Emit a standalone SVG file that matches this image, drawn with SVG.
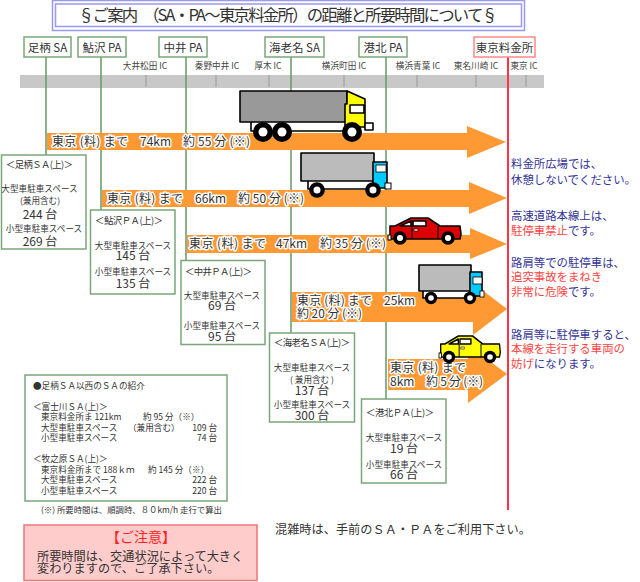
<svg xmlns="http://www.w3.org/2000/svg" xmlns:xlink="http://www.w3.org/1999/xlink" width="640" height="582" viewBox="0 0 640 582">
<style>
text{font-family:"Noto Sans CJK JP","Noto Sans",sans-serif;fill:#333}
.c{text-anchor:middle}
.e{text-anchor:end}
.node{font-size:11.5px}
.nb{fill:#fff;stroke:#7aa67a;stroke-width:1.5}
.ic{font-size:8.6px;text-anchor:middle;fill:#444}
.tick{stroke:#999;stroke-width:1}
.gl{stroke:#669966;stroke-width:1.5;fill:none}
.arrow{fill:#ff9933}
.al{font-size:12px;fill:#333;stroke:#fff;stroke-width:3px;paint-order:stroke;stroke-linejoin:round}
.s{font-size:8.6px}
.t{font-size:9.4px}
.n{font-size:12px}
.m{font-size:8.6px}
.note{font-size:11.4px;fill:#333399}
.r{fill:#ff4444}
.k{stroke:#000;stroke-width:1.6;stroke-linejoin:round}
</style>
<defs>
<g id="car">
<path class="k" fill="currentColor" d="M2 8 L7 8 L23 0 L40 0 L52 8 L72 8 L73 16 L72 21 L2 21 Z"/>
<path class="k" d="M25 3 L38 3 L38 8 L25 8 Z" fill="#fff"/>
<path class="k" d="M23 3 L23 8 L12 8 Z" fill="#fff" stroke-width="1"/>
<path d="M24 8 V21 M50 8 V21" stroke="#000" stroke-width="1.2"/>
<rect x="0" y="17" width="3" height="5" fill="#fff" stroke="#000"/>
<rect x="26" y="11" width="4" height="2" fill="#fff" stroke="#000" stroke-width=".6"/>
</g>
<g id="w"><circle r="10" fill="#000"/><circle r="4.5" fill="#fff"/></g>
</defs>

<g id="title">
<rect x="52.5" y="0.5" width="472" height="30" fill="#fff" stroke="#9999ee" stroke-width="1.5"/>
<rect x="55.5" y="4" width="466" height="22.5" fill="#fff" stroke="#9999ee" stroke-width="1.5"/>
<text x="78" y="21" font-size="16.4" textLength="420">§ご案内　（SA・PA～東京料金所）の距離と所要時間について§</text>
</g>

<g id="road">
<rect x="20" y="75" width="524" height="13" fill="#c8c8c8"/>
<path class="tick" d="M146 75V87M216 75V87M269 75V87M344 75V87M417 75V87M476 75V87M526 75V87"/>
<text class="ic" x="145" y="69">大井松田 IC</text>
<text class="ic" x="217" y="69">秦野中井 IC</text>
<text class="ic" x="268" y="69">厚木 IC</text>
<text class="ic" x="344" y="69">横浜町田 IC</text>
<text class="ic" x="418" y="69">横浜青葉 IC</text>
<text class="ic" x="476" y="69">東名川崎 IC</text>
<text class="ic" x="524" y="69">東京 IC</text>
</g>

<g id="connectors">
<path class="gl" d="M46 57V155M101 57V210M186 57V261M291 57V333M386 57V399"/>
<path d="M508 57V510" stroke="#ff3344" stroke-width="2" fill="none"/>
</g>

<g id="arrow-1"><path class="arrow" d="M47 133H467V126L506 142L467 158V150H47Z"/>
<text class="al" x="52" y="146" textLength="76">東京 (料) まで</text><text class="al" x="140" y="146">74km</text><text class="al" x="183" y="146" textLength="67">約 55 分 (※)</text></g>
<g id="arrow-2"><path class="arrow" d="M102 190H469V182L507 198L469 214V207H102Z"/>
<text class="al" x="107" y="203" textLength="76">東京 (料) まで</text><text class="al" x="195" y="203">66km</text><text class="al" x="238" y="203" textLength="66">約 50 分 (※)</text></g>
<g id="arrow-3"><path class="arrow" d="M187 235H470V228L507 244L470 259V253H187Z"/>
<text class="al" x="189" y="248" textLength="77">東京 (料) まで</text><text class="al" x="276" y="248">47km</text><text class="al" x="320" y="248" textLength="66">約 35 分 (※)</text></g>
<g id="arrow-4"><path class="arrow" d="M292 292H473V283L507 309L473 335V322H292Z"/>
<text class="al" x="297" y="305" textLength="75">東京 (料) まで</text><text class="al" x="384" y="305">25km</text><text class="al" x="297" y="318" textLength="65">約 20 分 (※)</text></g>
<g id="arrow-5"><path class="arrow" d="M388 359H468V345L507 374L468 403V390H388Z"/>
<text class="al" x="390" y="372" textLength="76">東京 (料) まで</text><text class="al" x="390" y="386">8km</text><text class="al" x="426" y="386" textLength="57">約 5 分 (※)</text></g>

<g id="truck-1">
<rect class="k" x="251" y="120" width="95" height="11" fill="#fff"/>
<rect class="k" x="240" y="91" width="107" height="31" fill="#999"/>
<path class="k" d="M347 91L365 99V127L345 127V104H347Z" fill="#ffff00"/>
<rect class="k" x="350" y="105" width="14" height="8" fill="#fff" stroke-width="1"/>
<rect class="k" x="365" y="123" width="8" height="7" fill="#fff" stroke-width="1"/>
<use href="#w" transform="translate(263 132)"/><use href="#w" transform="translate(282 132)"/><use href="#w" transform="translate(352 132)"/>
</g>
<g id="truck-2">
<rect class="k" x="308" y="180" width="66" height="9" fill="#fff"/>
<rect class="k" x="301" y="153" width="73" height="28" fill="#bbb"/>
<rect class="k" x="373" y="162" width="14" height="26" fill="#00ccff"/>
<rect x="376" y="165" width="10" height="7" fill="#fff" stroke="#000" stroke-width=".8"/>
<rect x="385" y="183" width="6" height="6" fill="#fff" stroke="#000"/>
<use href="#w" transform="translate(317 190) scale(.78)"/><use href="#w" transform="translate(373 190) scale(.78)"/>
</g>
<g id="truck-3">
<rect class="k" x="423" y="290" width="49" height="8" fill="#fff"/>
<rect class="k" x="419" y="265" width="52" height="26" fill="#bbb"/>
<rect class="k" x="470" y="272" width="12" height="24" fill="#00ccff"/>
<rect x="473" y="277" width="9" height="7" fill="#fff" stroke="#000" stroke-width=".8"/>
<rect x="480" y="291" width="4" height="6" fill="#fff" stroke="#000" stroke-width=".8"/>
<use href="#w" transform="translate(431 298) scale(.62)"/><use href="#w" transform="translate(470 298) scale(.62)"/>
</g>
<g id="car-red" color="#dd0000">
<use href="#car" transform="translate(388 218)"/>
<use href="#w" transform="translate(400 238) scale(.68)"/><use href="#w" transform="translate(448 238) scale(.68)"/>
</g>
<g id="car-yellow" color="#ffff00">
<use href="#car" transform="translate(439 336) scale(.84 1)"/>
<use href="#w" transform="translate(449 357) scale(.62)"/><use href="#w" transform="translate(490 357) scale(.62)"/>
</g>

<g id="node-ashigara"><rect class="nb" x="24" y="37" width="47" height="20"/><text class="node c" x="47.5" y="52">足柄 SA</text></g>
<g id="node-ayuzawa"><rect class="nb" x="78" y="37" width="48" height="20"/><text class="node c" x="102" y="52">鮎沢 PA</text></g>
<g id="node-nakai"><rect class="nb" x="159" y="37" width="48" height="20"/><text class="node c" x="183" y="52">中井 PA</text></g>
<g id="node-ebina"><rect class="nb" x="265" y="37" width="59" height="20"/><text class="node c" x="294.5" y="52">海老名 SA</text></g>
<g id="node-kohoku"><rect class="nb" x="359" y="37" width="48" height="20"/><text class="node c" x="383" y="52">港北 PA</text></g>
<g id="node-tokyo"><rect x="474" y="37" width="61" height="20" fill="#fff" stroke="#ff8888" stroke-width="1.5"/><text class="node c" x="504.5" y="52">東京料金所</text></g>

<g id="info-ashigara"><rect class="nb" x="1.5" y="155" width="84.5" height="94"/>
<text class="t" x="6" y="168" textLength="67">＜足柄ＳＡ(上)＞</text>
<text class="s c" x="39.5" y="192">大型車駐車スペース</text><text class="s c" x="40" y="204">(兼用含む)</text><text class="n c" x="40" y="219">244 台</text><text class="s c" x="44" y="232">小型車駐車スペース</text><text class="n c" x="40" y="246">269 台</text></g>
<g id="info-ayuzawa"><rect class="nb" x="90.5" y="210" width="84.5" height="84"/>
<text class="t" x="95" y="224" textLength="68">＜鮎沢ＰＡ(上)＞</text>
<text class="s c" x="133" y="249">大型車駐車スペース</text><text class="n c" x="133" y="260">145 台</text><text class="s c" x="133" y="275">小型車駐車スペース</text><text class="n c" x="133" y="288">135 台</text></g>
<g id="info-nakai"><rect class="nb" x="181" y="260.5" width="84" height="84"/>
<text class="t" x="185" y="275" textLength="67">＜中井ＰＡ(上)＞</text>
<text class="s c" x="222" y="299">大型車駐車スペース</text><text class="n c" x="222" y="310">69 台</text><text class="s c" x="222" y="329">小型車駐車スペース</text><text class="n c" x="222" y="341">95 台</text></g>
<g id="info-ebina"><rect class="nb" x="269.5" y="333" width="85" height="89"/>
<text class="t" x="274" y="346" textLength="76">＜海老名ＳＡ(上)＞</text>
<text class="s c" x="312" y="371">大型車駐車スペース</text><text class="s c" x="312" y="383">( 兼用含む )</text><text class="n c" x="312" y="395">137 台</text><text class="s c" x="312" y="408">小型車駐車スペース</text><text class="n c" x="312" y="420">300 台</text></g>
<g id="info-kohoku"><rect class="nb" x="361.5" y="399" width="84.5" height="84"/>
<text class="t" x="366" y="416" textLength="68">＜港北ＰＡ(上)＞</text>
<text class="s c" x="404" y="441">大型車駐車スペース</text><text class="n c" x="404" y="453">19 台</text><text class="s c" x="404" y="468">小型車駐車スペース</text><text class="n c" x="404" y="479">66 台</text></g>

<g id="notes">
<text class="note" x="511" y="168">料金所広場では、</text>
<text class="note" x="511" y="184">休憩しないでください。</text>
<text class="note" x="511" y="220">高速道路本線上は、</text>
<text class="note" x="511" y="235"><tspan class="r">駐停車禁止</tspan>です。</text>
<text class="note" x="511" y="267">路肩等での駐停車は、</text>
<text class="note r" x="511" y="281">追突事故をまねき</text>
<text class="note" x="511" y="296"><tspan class="r">非常に危険</tspan>です。</text>
<text class="note" x="511" y="339">路肩等に駐停車すると、</text>
<text class="note r" x="511" y="353">本線を走行する車両の</text>
<text class="note" x="511" y="368"><tspan class="r">妨げ</tspan>になります。</text>
</g>

<g id="west-sa"><rect class="nb" x="25" y="375" width="202" height="126"/>
<text class="m" x="33" y="389">●足柄ＳＡ以西のＳＡの紹介</text>
<text class="m" x="33" y="410">＜富士川ＳＡ(上)＞</text>
<text class="m" x="41" y="420">東京料金所ま 121km</text><text class="m" x="143" y="420">約 95 分（※）</text>
<text class="m" x="41" y="431">大型車駐車スペース</text><text class="m" x="128" y="431">（兼用含む）</text><text class="m e" x="217" y="431">109 台</text>
<text class="m" x="41" y="441">小型車駐車スペース</text><text class="m e" x="217" y="441">74 台</text>
<text class="m" x="33" y="462">＜牧之原ＳＡ(上)＞</text>
<text class="m" x="41" y="473">東京料金所まで 188ｋｍ</text><text class="m" x="148" y="473">約 145 分（※）</text>
<text class="m" x="41" y="483">大型車駐車スペース</text><text class="m e" x="217" y="483">222 台</text>
<text class="m" x="41" y="494">小型車駐車スペース</text><text class="m e" x="217" y="494">220 台</text>
<text x="41" y="513" font-size="8.4">(※) 所要時間は、順調時、８０km/h 走行で算出</text>
</g>

<g id="caution"><rect x="24" y="525" width="233" height="55.5" fill="#ffcccc" stroke="#ee7777" stroke-width="1.5"/>
<text class="c" x="141" y="542" font-size="14" style="fill:#ff2222">【ご注意】</text>
<text x="37" y="561" font-size="12.2">所要時間は、交通状況によって大きく</text>
<text x="37" y="573" font-size="12.2">変わりますので、ご了承下さい。</text>
</g>

<text x="275" y="534" font-size="12.2">混雑時は、手前のＳＡ・ＰＡをご利用下さい。</text>
</svg>
